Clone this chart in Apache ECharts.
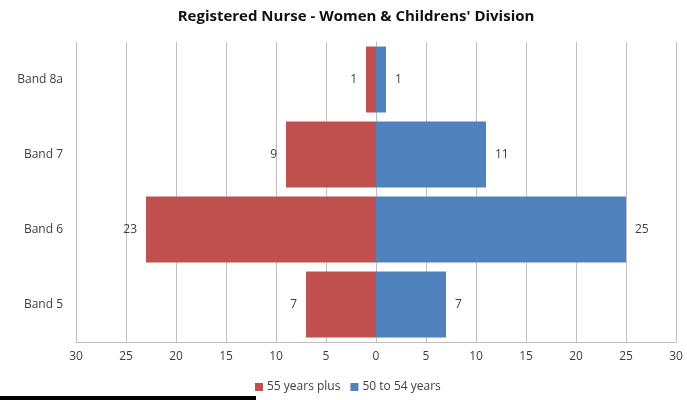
<!DOCTYPE html>
<html><head><meta charset="utf-8">
<script src="https://cdn.jsdelivr.net/npm/echarts@6/dist/echarts.min.js"></script>
<style>html,body{margin:0;padding:0;background:#fff}#c{width:687px;height:400px}</style>
</head><body><div id="c"></div>
<script>
var categories = ['Band 8a', 'Band 7', 'Band 6', 'Band 5'];
var plus55 = [1, 9, 23, 7];
var age50to54 = [1, 11, 25, 7];
var seriesNames = ['55 years plus', '50 to 54 years'];

var font = '"Open Sans", Lato, sans-serif';
var chart = echarts.init(document.getElementById('c'));
chart.setOption({
  animation: false,
  title: {
    text: 'Registered Nurse - Women & Childrens\' Division',
    left: 351, textAlign: 'center', top: 4,
    textStyle: { fontFamily: font, fontSize: 15, fontWeight: 'bold', color: '#111' }
  },
  legend: {
    bottom: 2, left: 250,
    itemWidth: 8, itemHeight: 8, itemGap: 10,
    icon: 'rect',
    textStyle: { fontFamily: font, fontSize: 12, color: '#404040', padding: [0, 0, 0, -1] },
    data: seriesNames
  },
  grid: { left: 76, right: 11, top: 42, bottom: 58 },
  xAxis: {
    type: 'value', min: -30, max: 30, interval: 5,
    axisLabel: { formatter: function (v) { return Math.abs(v); }, fontFamily: font, fontSize: 12, color: '#404040', margin: 9 },
    axisLine: { show: true, lineStyle: { color: '#bfbfbf' } },
    axisTick: { show: false },
    splitLine: { show: true, lineStyle: { color: '#bfbfbf' } }
  },
  yAxis: {
    type: 'category', data: categories, inverse: true,
    axisLabel: { fontFamily: font, fontSize: 12, color: '#404040', margin: 13 },
    axisLine: { show: true, lineStyle: { color: '#bfbfbf' } },
    axisTick: { show: false }
  },
  series: [
    {
      name: seriesNames[0], type: 'bar', barGap: '-100%', barCategoryGap: '12%',
      data: plus55.map(function (v) { return -v; }),
      itemStyle: { color: '#C0504D' },
      label: { show: true, position: 'left', distance: 9, formatter: function (p) { return Math.abs(p.value); }, fontFamily: font, fontSize: 12, color: '#404040' }
    },
    {
      name: seriesNames[1], type: 'bar', barGap: '-100%', barCategoryGap: '12%',
      data: age50to54,
      itemStyle: { color: '#4F81BD' },
      label: { show: true, position: 'right', distance: 9, fontFamily: font, fontSize: 12, color: '#404040' }
    }
  ],
  graphic: [
    { type: 'rect', left: 0, top: 396, shape: { width: 256, height: 4 }, style: { fill: '#000' } }
  ]
});
</script></body></html>
